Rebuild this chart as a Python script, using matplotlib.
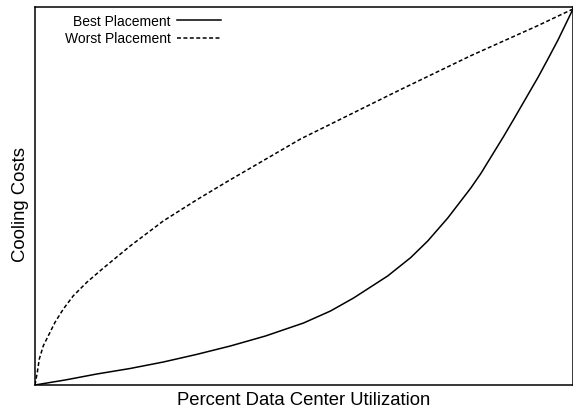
import matplotlib
matplotlib.use("Agg")
import matplotlib.pyplot as plt

plt.rcParams['font.family'] = ['Liberation Sans', 'DejaVu Sans']

# Percent utilization (x) vs relative cooling cost (y), 0-100 scale
best_x = [0.0, 5.59, 11.49, 17.69, 23.84, 29.98, 36.31, 42.83, 49.91, 54.93,
          59.22, 65.55, 69.83, 73.0, 76.72, 81.01, 82.87, 87.15, 89.01, 93.48,
          95.34, 97.21, 100.0]
best_y = [0.0, 1.32, 2.91, 4.37, 6.08, 8.07, 10.32, 12.96, 16.40, 19.58,
          23.02, 28.84, 33.70, 38.10, 44.18, 52.12, 55.95, 65.87, 70.37, 81.35,
          86.24, 91.27, 99.47]

worst_x = [0.0, 0.43, 0.80, 1.55, 2.48, 3.72, 5.27, 7.13, 9.63, 12.72,
           17.69, 23.84, 30.17, 35.75, 49.35, 67.41, 81.01, 87.21, 93.43, 100.0]
worst_y = [0.0, 3.36, 6.88, 10.40, 13.04, 16.59, 20.11, 23.62, 27.17, 30.95,
           36.77, 43.39, 49.08, 53.84, 65.08, 77.78, 87.12, 91.08, 95.05, 99.47]

labels = ["Best Placement", "Worst Placement"]

fig = plt.figure(figsize=(5.73, 4.10), dpi=100)
ax = fig.add_axes([35/573, 24/410, 538/573, 378/410])

ax.plot(best_x, best_y, color='black', lw=1.1, linestyle='-', label=labels[0])
ax.plot(worst_x, worst_y, color='black', lw=1.1, linestyle=(0, (2.6, 1.6)), label=labels[1])

ax.set_xlim(0, 100)
ax.set_ylim(0, 100)
ax.set_xticks([])
ax.set_yticks([])
for s in ax.spines.values():
    s.set_linewidth(1.1)

ax.set_xlabel("Percent Data Center Utilization", fontsize=13.3, labelpad=4)
ax.set_ylabel("Cooling Costs", fontsize=13.3)
ax.yaxis.set_label_coords(-0.012, 0.48)

leg = ax.legend(loc='upper left', frameon=False, markerfirst=False, fontsize=10,
                handlelength=3.2, handletextpad=0.42, labelspacing=0.25,
                borderpad=0.0, borderaxespad=0.0,
                bbox_to_anchor=(65/573, 1 - 15/410), bbox_transform=fig.transFigure)

fig.savefig("out.png", dpi=100)
